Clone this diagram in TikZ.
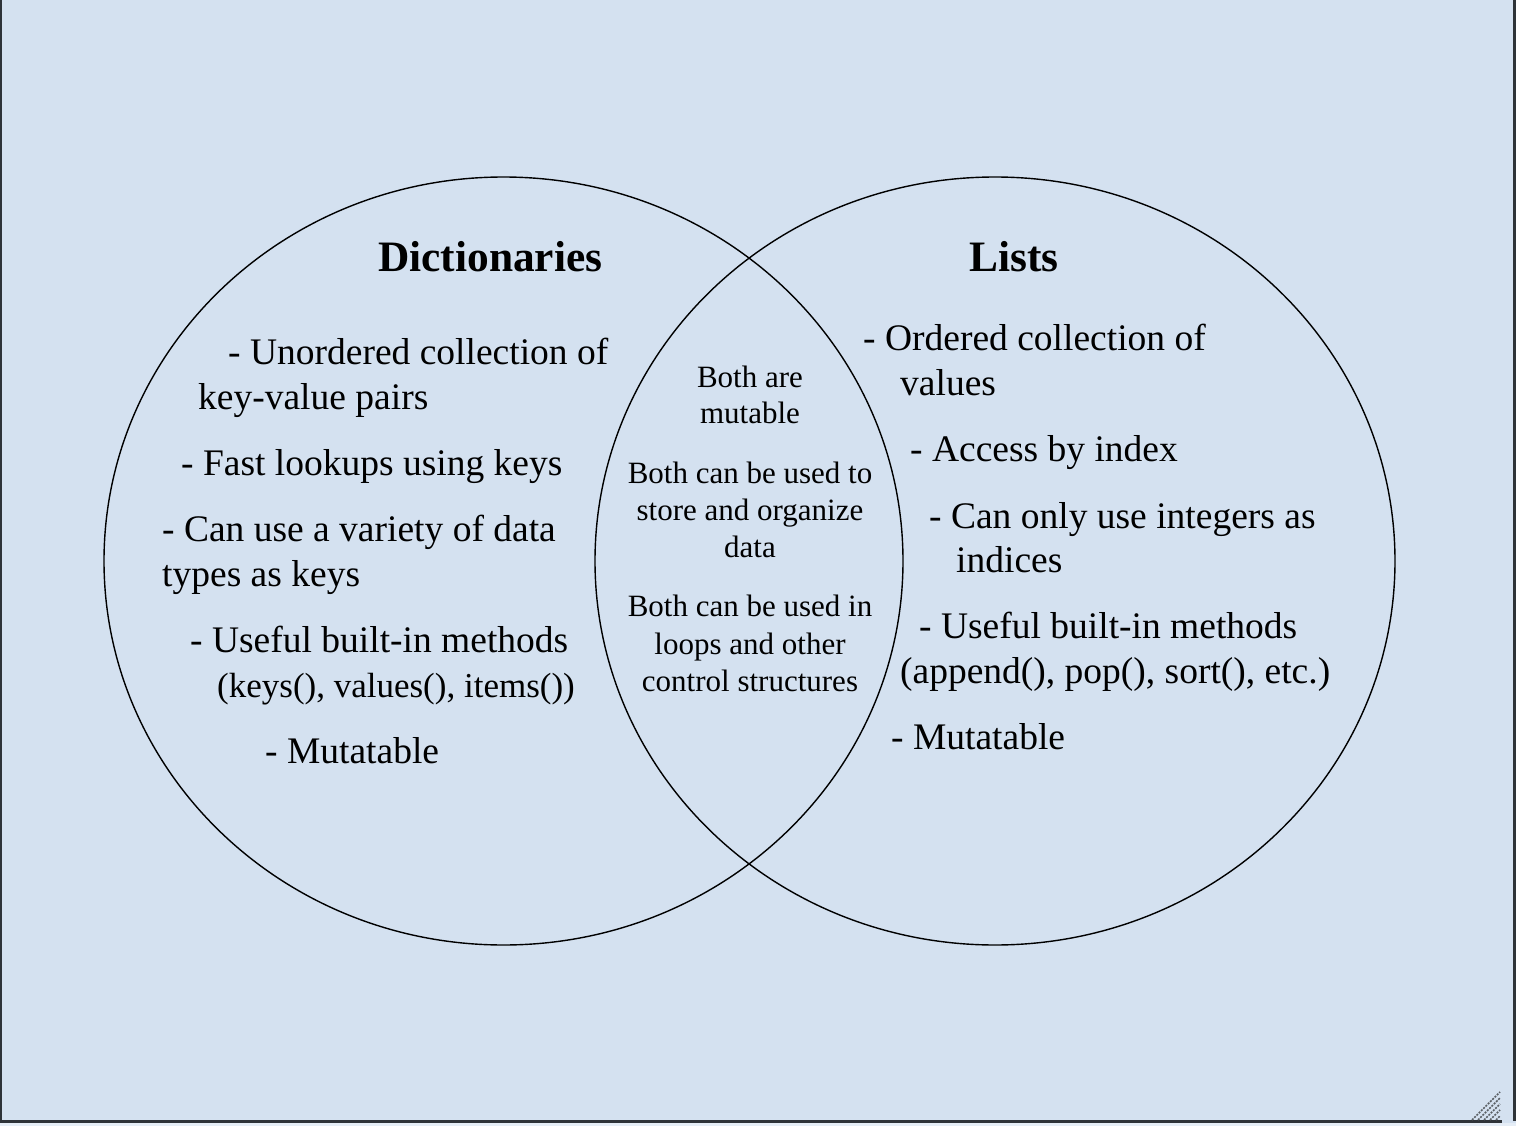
\documentclass[tikz,border=0pt]{standalone}
\usepackage{fontspec}
\setmainfont{Liberation Serif}
\definecolor{bg}{RGB}{212,225,240}
\definecolor{frame}{RGB}{46,51,56}
\definecolor{grip}{RGB}{90,95,100}
\begin{document}
\begin{tikzpicture}[x=1pt,y=-1pt,
  body/.style={anchor=base west,inner sep=0pt,font=\fontsize{37.5}{45}\selectfont},
  mid/.style={anchor=base,inner sep=0pt,font=\fontsize{31}{37}\selectfont},
  title/.style={anchor=base west,inner sep=0pt,font=\fontsize{43.4}{52}\selectfont\bfseries},
  ring/.style={draw=black,line width=1.4pt}]
\useasboundingbox (0,0) rectangle (1516,1126);
\fill[bg] (0,0) rectangle (1516,1126);
\fill[bg!60!white] (0,1123) rectangle (1516,1126);
\fill[frame] (0,0) rectangle (2,1123);
\fill[frame] (1513,0) rectangle (1516,1121);
\fill[frame] (0,1120) rectangle (1502,1123);
% grip
\foreach \d in {28,22,16,10,4}{
  \draw[grip,line width=1.6pt,dash pattern=on 2pt off 1.2pt] (1500-\d,1120) -- (1500,1120-\d);
}
% circles
\draw[ring] (503.5,561) ellipse [x radius=399.5,y radius=384];
\draw[ring] (995,561) ellipse [x radius=400,y radius=384];
% titles
\node[title] (tD) at (378,272) {Dictionaries};
\node[title] (tL) at (969,272) {Lists};
% left
\node[body] (l1) at (228,364) {- Unordered collection of};
\node[body] (l2) at (198,409) {key-value pairs};
\node[body] (l3) at (181,475) {- Fast lookups using keys};
\node[body] (l4) at (162,541) {- Can use a variety of data};
\node[body] (l5) at (162,586) {types as keys};
\node[body] (l6) at (190,652) {- Useful built-in methods};
\node[body,font=\fontsize{35}{42}\selectfont] (l7) at (217,697) {(keys(), values(), items())};
\node[body] (l8) at (265,763) {- Mutatable};
% right
\node[body] (r1) at (863,350) {- Ordered collection of};
\node[body] (r2) at (900,395) {values};
\node[body] (r3) at (910,461) {- Access by index};
\node[body] (r4) at (929,528) {- Can only use integers as};
\node[body] (r5) at (956,572) {indices};
\node[body] (r6) at (919,638) {- Useful built-in methods};
\node[body] (r7) at (900,683) {(append(), pop(), sort(), etc.)};
\node[body] (r8) at (891,749) {- Mutatable};
% middle
\node[mid] (m1) at (750,387) {Both are};
\node[mid] (m2) at (750,423) {mutable};
\node[mid] (m3) at (750,483) {Both can be used to};
\node[mid] (m4) at (750,520) {store and organize};
\node[mid] (m5) at (750,557) {data};
\node[mid] (m6) at (750,616) {Both can be used in};
\node[mid] (m7) at (750,654) {loops and other};
\node[mid] (m8) at (750,691) {control structures};
\end{tikzpicture}
\end{document}
